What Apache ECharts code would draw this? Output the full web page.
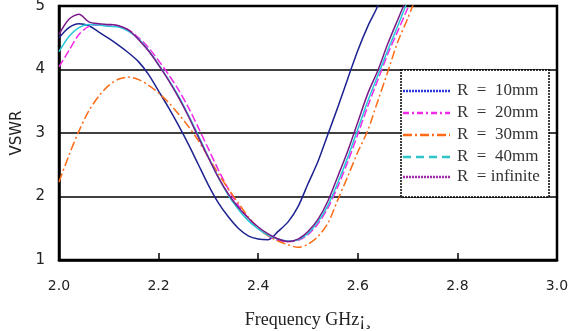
<!DOCTYPE html>
<html><head><meta charset="utf-8">
<script src="https://cdn.jsdelivr.net/npm/echarts@6/dist/echarts.min.js"></script>
<style>html,body{margin:0;padding:0;background:#fff}#c{width:578px;height:331px}</style>
</head><body><div id="c"></div>
<script>
const frequency = [2.00,2.02,2.04,2.06,2.08,2.10,2.12,2.14,2.16,2.18,2.20,2.22,2.24,2.26,2.28,2.30,2.32,2.34,2.36,2.38,2.40,2.42,2.44,2.46,2.48,2.50,2.52,2.54,2.56,2.58,2.60,2.62,2.64,2.66,2.68,2.70,2.72];
const r10mm = [4.50,4.66,4.72,4.69,4.59,4.49,4.38,4.26,4.12,3.92,3.66,3.40,3.12,2.82,2.50,2.18,1.90,1.68,1.50,1.38,1.33,1.32,1.45,1.60,1.84,2.20,2.55,2.98,3.41,3.86,4.30,4.68,5.00,5.45,null,null,null];
const r20mm = [4.04,4.30,4.55,4.68,4.70,4.70,4.68,4.62,4.50,4.34,4.14,3.92,3.68,3.40,3.08,2.75,2.42,2.12,1.86,1.66,1.50,1.38,1.31,1.29,1.31,1.40,1.57,1.82,2.16,2.55,2.98,3.42,3.83,4.24,4.60,4.96,5.30];
const r30mm = [2.23,2.65,3.03,3.35,3.58,3.75,3.85,3.88,3.84,3.75,3.63,3.48,3.30,3.10,2.88,2.62,2.36,2.12,1.90,1.68,1.50,1.38,1.30,1.24,1.20,1.25,1.37,1.58,1.95,2.32,2.70,3.04,3.50,3.96,4.43,4.80,5.20];
const r40mm = [4.28,4.52,4.66,4.71,4.70,4.68,4.67,4.60,4.48,4.30,4.08,3.84,3.58,3.28,2.96,2.62,2.30,2.02,1.80,1.62,1.49,1.39,1.33,1.30,1.32,1.42,1.60,1.86,2.22,2.62,3.06,3.50,3.90,4.30,4.68,5.08,null];
const rInfinite = [4.55,4.79,4.87,4.75,4.72,4.71,4.69,4.62,4.47,4.29,4.07,3.83,3.56,3.26,2.93,2.61,2.30,2.04,1.83,1.66,1.52,1.41,1.33,1.29,1.33,1.45,1.64,1.93,2.32,2.72,3.17,3.62,3.98,4.40,4.78,5.15,null];
const seriesNames = ['R  =  10mm','R  =  20mm','R  =  30mm','R  =  40mm','R  = infinite'];
const xTicks = [2.0,2.2,2.4,2.6,2.8,3.0];
const yTicks = [1,2,3,4,5];

const values = [r10mm, r20mm, r30mm, r40mm, rInfinite];
const curveColors = ['#1c2290','#f028e8','#ff6a14','#28c8d8','#7a1a88'];
const curveTypes = ['solid',[8,3],[9,3,2,3],'solid','solid'];
const legendColors = ['#2838e0','#f028e8','#ff6a14','#30c4c8','#a02aa8'];
const legendTypes = [[2,1],[6,3,2,3],[9,3,2,3],[8,5],[2,1]];
const legendRowY = [91,113,135,157,177];

const chart = echarts.init(document.getElementById('c'), null, {renderer:'canvas'});
const series = values.map((v,i)=>({
  name: seriesNames[i], type:'line', data: frequency.map((f,j)=>[f,v[j]]),
  symbol:'none', smooth:0.3, clip:true, connectNulls:false,
  lineStyle:{color:curveColors[i], width:1.5, type:curveTypes[i]},
  itemStyle:{color:curveColors[i]}
}));
const legendGraphics = [{type:'rect',z:5,shape:{x:401,y:70,width:148,height:127},
    style:{fill:'#fff',stroke:'#000',lineWidth:1.5,lineDash:[2,1]}}];
seriesNames.forEach((n,i)=>{
  legendGraphics.push({type:'line',z:6,shape:{x1:403,y1:legendRowY[i],x2:450,y2:legendRowY[i]},
    style:{stroke:legendColors[i],lineWidth:2.5,lineDash:legendTypes[i]}});
  legendGraphics.push({type:'text',z:6,x:457,y:legendRowY[i],
    style:{text:n,fill:'#333',font:'17px "Liberation Serif"',textVerticalAlign:'middle',verticalAlign:'middle'}});
});
chart.setOption({
  animation:false,
  grid:{left:59,right:21,top:6,bottom:71,containLabel:false,outerBoundsMode:'none',show:true,borderColor:'#000',borderWidth:2.5,backgroundColor:'transparent'},
  xAxis:{type:'value',min:2.0,max:3.0,interval:0.2,
    name:'Frequency GHz¡¸',nameLocation:'middle',nameGap:51,
    nameTextStyle:{fontFamily:'Liberation Serif',fontSize:18,color:'#222'},
    axisLine:{show:true,lineStyle:{color:'#000',width:2.5}},
    axisTick:{show:true,inside:true,length:7,lineStyle:{color:'#000',width:1.5}},
    splitLine:{show:false},
    axisLabel:{margin:19,fontFamily:'DejaVu Sans',fontSize:14,color:'#222',
      formatter:v=>{const t=xTicks.find(x=>Math.abs(x-v)<1e-6);return t!==undefined?t.toFixed(1):'';}}
  },
  yAxis:{type:'value',min:1,max:5,interval:1,
    name:'VSWR',nameLocation:'middle',nameGap:28,nameRotate:90,
    nameTextStyle:{fontFamily:'DejaVu Sans',fontSize:15,color:'#222'},
    axisLine:{show:true,lineStyle:{color:'#000',width:2.5}},
    axisTick:{show:false},
    splitLine:{show:true,lineStyle:{color:'#000',width:1.5}},
    axisLabel:{margin:14,fontFamily:'DejaVu Sans',fontSize:15,color:'#222',
      formatter:v=>yTicks.includes(v)?String(v):''}
  },
  graphic: legendGraphics,
  series: series
});
</script></body></html>
